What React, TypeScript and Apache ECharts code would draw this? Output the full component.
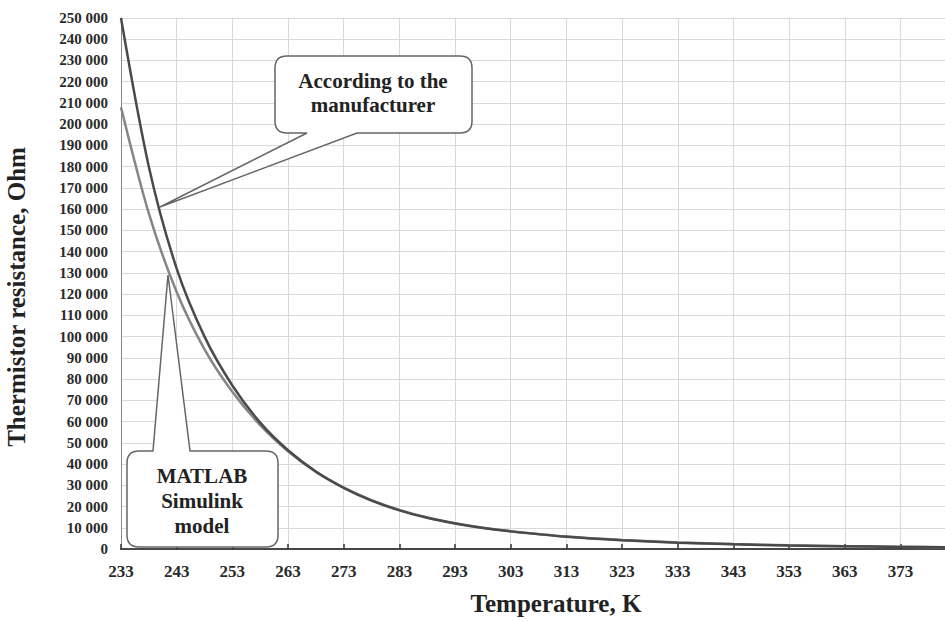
import { useEffect, useRef } from "react";
import * as echarts from "echarts";

// Temperature, K
const temperatures = [233, 238, 243, 248, 253, 258, 263, 268, 273, 278, 283, 288, 293, 298, 303, 313, 323, 333, 343, 353, 363, 373, 381];
// Resistance according to the manufacturer, Ohm
const manufacturerOhm = [250000, 180000, 132000, 100000, 77000, 59500, 46500, 36500, 28800, 22800, 18200, 14700, 12000, 9900, 8300, 5800, 4150, 3000, 2200, 1650, 1270, 990, 820];
// Resistance from the MATLAB Simulink model, Ohm
const simulinkOhm = [208000, 158000, 121000, 94000, 74000, 58300, 46000, 36300, 28900, 23000, 18400, 14800, 12100, 10000, 8400, 5900, 4250, 3100, 2300, 1720, 1320, 1030, 860];

const xMin = 233;
const xMax = 381;
const xStep = 10;
const yMax = 250000;
const yStep = 10000;

const xTitle = "Temperature, K";
const yTitle = "Thermistor resistance, Ohm";
const calloutManufacturer = "According to the\nmanufacturer";
const calloutSimulink = "MATLAB\nSimulink\nmodel";

const SERIF = '"Liberation Serif", "Times New Roman", serif';

echarts.graphic.registerShape(
  "calloutTop",
  echarts.graphic.extendPath(
    "M 287 56 H 460 Q 472 56 472 68 V 121 Q 472 133 460 133 H 357 L 160 207 L 307 133 H 287 Q 275 133 275 121 V 68 Q 275 56 287 56 Z",
    {}
  )
);
echarts.graphic.registerShape(
  "calloutBottom",
  echarts.graphic.extendPath(
    "M 139 451 H 153 L 168 275 L 190 451 H 266 Q 278 451 278 463 V 535 Q 278 547 266 547 H 139 Q 127 547 127 535 V 463 Q 127 451 139 451 Z",
    {}
  )
);

function fmtThousands(v: number): string {
  return String(v).replace(/\B(?=(\d{3})+(?!\d))/g, " ");
}

export default function App() {
  const ref = useRef<HTMLDivElement>(null);

  useEffect(() => {
    document.body.style.margin = "0";
    if (!ref.current) return;
    const chart = echarts.init(ref.current, undefined, { renderer: "svg" });

    const manuData = temperatures.map((t, i) => [t, manufacturerOhm[i]]);
    const simData = temperatures.map((t, i) => [t, simulinkOhm[i]]);

    chart.setOption({
      animation: false,
      backgroundColor: "#ffffff",
      grid: { left: 121, top: 18, right: 0, bottom: 71, containLabel: false },
      xAxis: [
        {
          type: "value",
          min: xMin,
          max: xMax,
          interval: xStep,
          name: xTitle,
          nameLocation: "middle",
          nameGap: 42,
          nameTextStyle: {
            fontFamily: SERIF,
            fontWeight: "bold",
            fontSize: 25,
            color: "#222",
            padding: [0, 0, 0, 46],
          },
          axisLine: { show: true, onZero: false, lineStyle: { color: "#222", width: 2 } },
          axisTick: { show: true, inside: true, length: 5, lineStyle: { color: "#333", width: 1.5 } },
          axisLabel: {
            fontFamily: SERIF,
            fontWeight: "bold",
            fontSize: 17,
            color: "#2a2a2a",
            margin: 14,
            showMaxLabel: false,
            formatter: (v: number) => ((v - xMin) % xStep === 0 ? String(v) : ""),
          },
          splitLine: { show: true, showMaxLine: false, lineStyle: { color: "#d9d9d9", width: 1 } },
        },
        {
          type: "value",
          position: "top",
          min: xMin,
          max: xMax,
          interval: xStep,
          axisLine: { show: true, lineStyle: { color: "#555", width: 1.5 } },
          axisTick: { show: false },
          axisLabel: { show: false },
          splitLine: { show: false },
        },
      ],
      yAxis: {
        type: "value",
        min: 0,
        max: yMax,
        interval: yStep,
        axisLine: { show: true, lineStyle: { color: "#888", width: 1 } },
        axisTick: { show: false },
        axisLabel: {
          fontFamily: SERIF,
          fontWeight: "bold",
          fontSize: 15,
          color: "#2a2a2a",
          margin: 13,
          formatter: (v: number) => fmtThousands(v),
        },
        splitLine: { show: true, lineStyle: { color: "#d9d9d9", width: 1 } },
      },
      series: [
        {
          name: "MATLAB Simulink model",
          type: "line",
          data: simData,
          smooth: 0.3,
          symbol: "none",
          lineStyle: { color: "#858585", width: 2.5 },
          z: 3,
        },
        {
          name: "According to the manufacturer",
          type: "line",
          data: manuData,
          smooth: 0.3,
          symbol: "none",
          lineStyle: { color: "#4a4a4a", width: 2.5 },
          z: 4,
        },
      ],
      graphic: [
        {
          type: "text",
          x: 16,
          y: 297,
          rotation: Math.PI / 2,
          style: {
            text: yTitle,
            font: `bold 25px ${SERIF}`,
            fill: "#222",
            textAlign: "center",
            textVerticalAlign: "middle",
          },
        },
        {
          type: "calloutTop",
          x: 0,
          y: 0,
          z: 100,
          style: { fill: "#ffffff", stroke: "#666", lineWidth: 1.5 },
        },
        {
          type: "text",
          x: 373,
          y: 93,
          z: 101,
          style: {
            text: calloutManufacturer,
            font: `bold 21px ${SERIF}`,
            fill: "#222",
            textAlign: "center",
            textVerticalAlign: "middle",
            lineHeight: 24,
          },
        },
        {
          type: "calloutBottom",
          x: 0,
          y: 0,
          z: 100,
          style: { fill: "#ffffff", stroke: "#666", lineWidth: 1.5 },
        },
        {
          type: "text",
          x: 202,
          y: 501,
          z: 101,
          style: {
            text: calloutSimulink,
            font: `bold 21px ${SERIF}`,
            fill: "#222",
            textAlign: "center",
            textVerticalAlign: "middle",
            lineHeight: 25,
          },
        },
      ],
    });

    return () => chart.dispose();
  }, []);

  return <div ref={ref} style={{ width: 945, height: 621 }} />;
}
